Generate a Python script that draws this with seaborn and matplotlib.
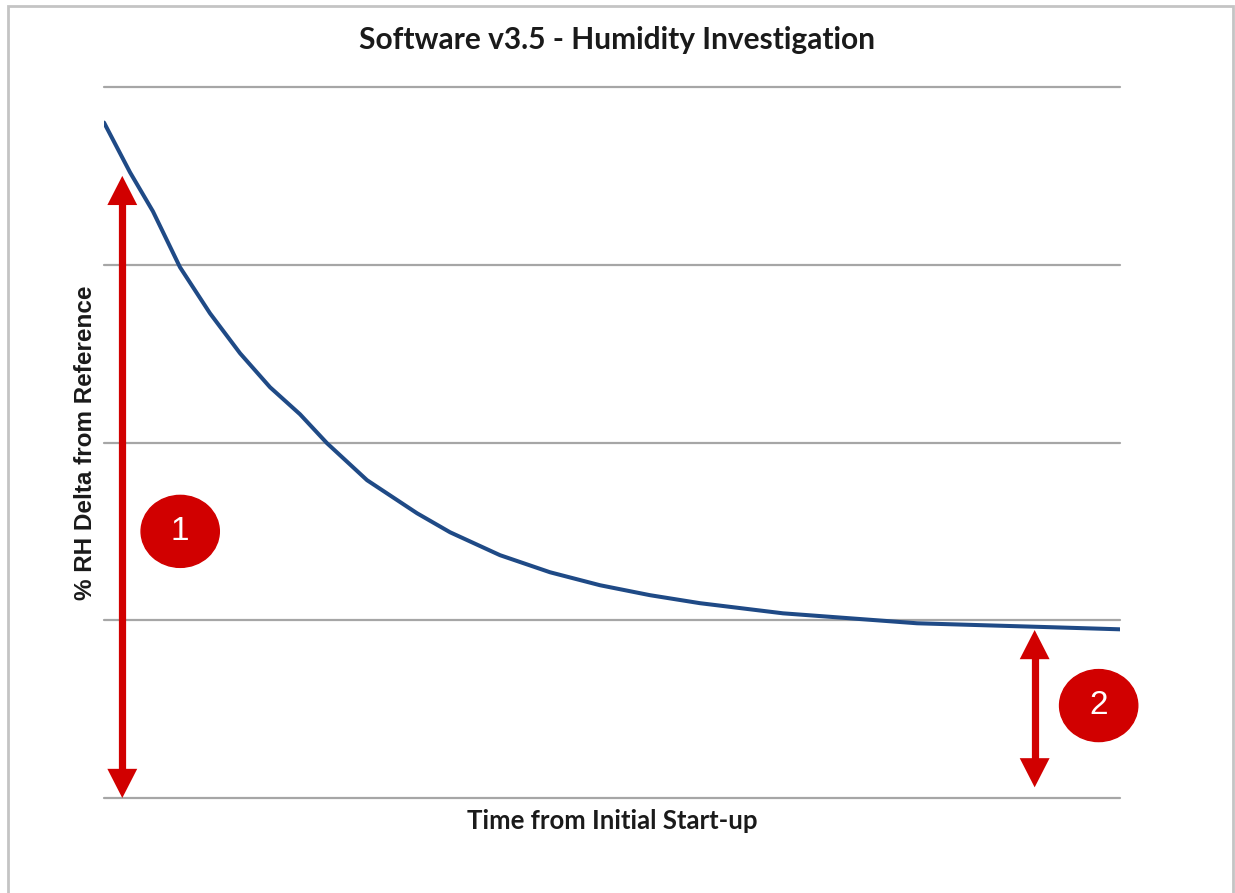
import seaborn as sns
import matplotlib.pyplot as plt
import pandas as pd
from matplotlib.patches import Ellipse, Rectangle, FancyArrowPatch

# Curve (time in % of run, RH delta in grid units)
time_pct = [0, 2.56, 4.82, 7.48, 10.43, 13.39, 16.34, 19.29, 21.95, 25.89, 30.81, 34.06,
            38.98, 43.90, 48.82, 53.74, 58.66, 66.83, 73.43, 80.02, 86.52, 93.11, 100]
rh_delta = [2.80, 2.52, 2.30, 1.986, 1.727, 1.502, 1.311, 1.159, 0.996, 0.788, 0.602, 0.495,
            0.366, 0.270, 0.197, 0.141, 0.096, 0.039, 0.011, -0.017, -0.028, -0.039, -0.051]

# Red callout arrows: (x, y_top, y_bottom) and their numbered badges
arrow_x = [1.8, 91.6]
arrow_top = [2.50, -0.055]
arrow_bottom = [-1.0, -0.94]
badge_x = [7.5, 97.9]
badge_y = [0.50, -0.48]
badge_text = ['1', '2']

grid_levels = [-1, 0, 1, 2, 3]

df = pd.DataFrame({'time': time_pct, 'delta': rh_delta})

sns.set_theme(style='white')
plt.rcParams['font.family'] = ['Lato', 'DejaVu Sans']

fig = plt.figure(figsize=(12.35, 8.93), dpi=100)
ax = fig.add_axes([104 / 1235, 1 - 798 / 893, (1120 - 104) / 1235, (798 - 87) / 893])

# Horizontal gridlines
for g in grid_levels:
    ax.axhline(g, color='#A6A6A6', lw=1.6, zorder=1, clip_on=False)

sns.lineplot(data=df, x='time', y='delta', ax=ax, color='#1F4A86', lw=2.9, zorder=3)

red = '#D10000'
# thin tail so only the head shows; the shaft comes from vlines
style = 'simple,head_length=21,head_width=21.5,tail_width=2'
for x, y0, y1 in zip(arrow_x, arrow_top, arrow_bottom):
    ax.vlines(x, y1 + 0.12, y0 - 0.12, color=red, lw=5.2, zorder=4, capstyle='butt')
    ax.add_patch(FancyArrowPatch((x, y0 - 0.25), (x, y0), arrowstyle=style,
                                 mutation_scale=1, color=red, lw=0,
                                 shrinkA=0, shrinkB=0, zorder=4, clip_on=False))
    ax.add_patch(FancyArrowPatch((x, y1 + 0.25), (x, y1), arrowstyle=style,
                                 mutation_scale=1, color=red, lw=0,
                                 shrinkA=0, shrinkB=0, zorder=4, clip_on=False))

for x, y, t in zip(badge_x, badge_y, badge_text):
    ax.add_patch(Ellipse((x, y), width=7.7, height=0.405, color=red, zorder=5, clip_on=False))
    ax.text(x, y, t, color='white', fontsize=24, ha='center', va='center',
            family='Liberation Sans', zorder=6)

ax.set_xlim(0, 100)
ax.set_ylim(-1, 3)
ax.set_xticks([])
ax.set_yticks([])
for s in ax.spines.values():
    s.set_visible(False)

ax.set_xlabel('Time from Initial Start-up', fontsize=18.5, fontweight='bold', color='#1a1a1a', labelpad=8)
ax.set_ylabel('% RH Delta from Reference', fontsize=17.5, fontweight='bold', color='#1a1a1a',
              family='Liberation Sans', labelpad=5)
fig.text(617 / 1235, 1 - 40 / 893, 'Software v3.5 - Humidity Investigation', fontsize=21.5,
         fontweight='bold', ha='center', va='center', color='#1a1a1a')

# Light frame around the chart area
fig.patches.append(Rectangle((8 / 1235, -0.05), (1233 - 8) / 1235, 1.05 - 6 / 893,
                             transform=fig.transFigure, fill=False, ec='#C4C4C4', lw=2))

fig.savefig('out.png', dpi=100)
